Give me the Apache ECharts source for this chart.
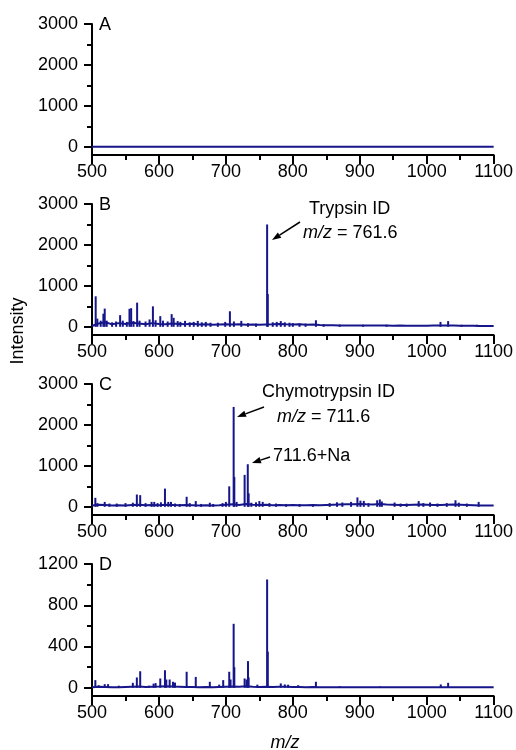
<!DOCTYPE html>
<html><head><meta charset="utf-8">
<script src="https://cdn.jsdelivr.net/npm/echarts@6/dist/echarts.min.js"></script>
<style>html,body{margin:0;padding:0;background:#fff}#c{width:516px;height:750px}</style>
</head><body><div id="c"></div>
<script>
// m/z sampling of the baseline traces
const baseMz = [500,510,520,530,540,550,560,570,580,590,600,610,620,630,640,650,660,670,680,690,
  700,710,720,730,740,750,760,770,780,790,800,810,820,830,840,850,860,870,880,890,
  900,910,920,930,940,950,960,970,980,990,1000,1010,1020,1030,1040,1050,1060,1070,1080,1090,1100];

// A: blank — flat trace
const mzA = [500, 1100];
const intA = [0, 0];
const peakMzA = [];
const peakIntA = [];

// B: trypsin digest
const baseB = [20,80,110,60,90,70,100,80,60,90,70,60,80,70,60,75,55,65,50,55,
  60,55,60,50,55,50,55,60,70,60,55,60,50,55,45,40,40,35,35,35,
  30,35,30,30,30,28,30,28,28,25,28,30,30,35,30,25,25,25,22,22,22];
const peakMzB = [505.5,508,513,517,519,522,530,536,542,546,552,556,558.5,562,567.4,571,580,586,591,595,
  602,606,613,619,622,628,632,639,646,652,658,664,670,677,688,699,706,712,723,733,745,
  761.6,762.6,770,776,782,788,795,800,810,819,834.5,846,870,905,940,1020.6,1032,1052,1075];
const peakIntB = [745,200,150,320,445,150,110,130,285,150,120,440,455,140,590,150,130,180,500,160,
  260,150,130,310,220,140,120,145,110,120,145,110,120,100,100,120,380,130,145,90,80,
  2500,800,110,120,140,110,100,90,85,80,160,60,55,50,50,120,140,50,50];

// C: chymotrypsin digest
const baseC = [30,50,45,35,40,35,45,50,40,45,40,50,45,40,45,40,35,40,35,40,
  50,60,45,70,50,45,50,40,45,40,45,40,40,45,40,45,50,55,60,65,
  70,60,55,70,55,50,45,45,50,55,50,45,45,50,55,50,45,40,35,35,35];
const peakMzC = [505,508,519,526,537,550,561,567,572,580,589,593,598,603,609,614,618,624,631,641.4,
  646,655,663,676,681,695,700,705,711.6,712.6,716,728,732.7,734,738,745,750,755,765,775,
  790,810,830,855,866,874,887,896.5,901,906,913,926,930,933,952,961,970,988,995,1005,
  1016,1030,1043,1048,1060,1077.6];
const peakIntC = [220,90,120,80,80,90,100,300,285,90,120,120,90,110,445,120,120,80,70,245,
  90,140,70,100,70,90,120,500,2440,730,120,780,1040,330,100,110,140,120,90,80,
  70,70,60,90,110,105,120,230,150,145,90,160,180,130,105,80,80,140,90,105,
  80,90,160,100,80,120];

// D: combined digest
const baseD = [5,10,8,6,5,8,10,12,8,10,12,15,12,10,8,8,6,8,6,8,
  10,12,10,15,10,8,10,8,10,10,8,8,6,8,6,5,5,5,4,5,
  4,4,4,4,4,4,4,4,4,4,4,4,5,6,5,4,4,4,4,4,4];
const peakMzD = [505,510,519,524,540,561,567,572,585,592,595,602,609,611,616,621,624,641.4,655,676,
  690,696,705,707,711.6,712.6,728,731,733,734,747,761.6,762.6,782,788,793,808,834.5,870,930,1021,1032];
const peakIntD = [74,25,35,35,20,48,100,160,20,40,45,90,170,80,80,58,50,155,105,58,
  30,74,155,80,620,200,90,80,258,100,30,1050,350,42,32,30,25,58,15,12,32,48];

// y-axis ranges and tick labels per panel
const yMin = [-200, -200, -200, -80];
const yMax = [3000, 3000, 3000, 1200];
const yMajor = [[0,1000,2000,3000],[0,1000,2000,3000],[0,1000,2000,3000],[0,400,800,1200]];
const yMinor = [[500,1500,2500],[500,1500,2500],[500,1500,2500],[200,600,1000]];
const panelLetters = ['A','B','C','D'];

const NAVY = '#16168a';
const FONT = '"Liberation Sans", Arial, sans-serif';
const gridTop = [24, 204, 384, 564];
const gridH = [131, 131, 131, 132];
const plain = v => String(v);

const traces = [
  {mz: mzA, val: intA, pm: peakMzA, pv: peakIntA},
  {mz: baseMz, val: baseB, pm: peakMzB, pv: peakIntB},
  {mz: baseMz, val: baseC, pm: peakMzC, pv: peakIntC},
  {mz: baseMz, val: baseD, pm: peakMzD, pv: peakIntD}
];

const grid = [], xAxis = [], yAxis = [], series = [];
for (let i = 0; i < 4; i++) {
  grid.push({left: 92, right: 21, top: gridTop[i], height: gridH[i]});
  xAxis.push({
    type: 'value', gridIndex: i, min: 500, max: 1100, interval: 100,
    axisLine: {onZero: false, lineStyle: {color: '#000', width: 2}},
    axisTick: {length: 9, lineStyle: {color: '#000', width: 2}},
    minorTick: {show: true, splitNumber: 2, length: 5, lineStyle: {color: '#000', width: 2}},
    splitLine: {show: false},
    axisLabel: {color: '#000', fontSize: 18, fontFamily: FONT, margin: 8, formatter: plain}
  });
  yAxis.push({
    type: 'value', gridIndex: i, min: yMin[i], max: yMax[i],
    axisLine: {show: true, lineStyle: {color: '#000', width: 2}},
    axisTick: {show: true, length: 8, customValues: yMajor[i], lineStyle: {color: '#000', width: 2}},
    axisLabel: {customValues: yMajor[i], color: '#000', fontSize: 18, fontFamily: FONT, margin: 14, formatter: plain},
    splitLine: {show: false}
  });
  yAxis.push({
    type: 'value', gridIndex: i, min: yMin[i], max: yMax[i], position: 'left',
    axisLine: {show: false},
    axisTick: {show: true, length: 5, customValues: yMinor[i], lineStyle: {color: '#000', width: 2}},
    axisLabel: {show: false},
    splitLine: {show: false}
  });
  const t = traces[i];
  series.push({
    type: 'line', xAxisIndex: i, yAxisIndex: 2 * i, symbol: 'none',
    lineStyle: {color: NAVY, width: 2},
    data: t.mz.map((m, k) => [m, t.val[k]]), z: 3
  });
  if (t.pm.length) {
    series.push({
      type: 'bar', xAxisIndex: i, yAxisIndex: 2 * i, barWidth: 2,
      itemStyle: {color: NAVY},
      data: t.pm.map((m, k) => [m, t.pv[k]]), z: 2
    });
  }
}

const textStyle = (x, y, text, extra) => Object.assign({
  type: 'text', style: Object.assign({x: x, y: y, text: text, font: '18px ' + FONT, fill: '#000',
    align: 'left', verticalAlign: 'middle'}, extra || {})
});

const graphic = [];
panelLetters.forEach((L, i) => graphic.push(textStyle(99, gridTop[i] + 1, L)));

// rich text for the italic m/z
const rich = {i: {fontStyle: 'italic', fontSize: 18, fontFamily: FONT}, n: {fontSize: 18, fontFamily: FONT}};
function mzLabel(x, y, value) {
  return {type: 'text', style: {x: x, y: y, text: '{i|m/z}{n| = ' + value + '}', rich: rich,
    fill: '#000', align: 'left', verticalAlign: 'middle'}};
}
function arrow(sx, sy, tx, ty) {
  const dx = tx - sx, dy = ty - sy, len = Math.hypot(dx, dy);
  const ux = dx / len, uy = dy / len, hl = 9, hw = 3.2;
  const bx = tx - ux * hl, by = ty - uy * hl;
  return [
    {type: 'line', shape: {x1: sx, y1: sy, x2: bx, y2: by}, style: {stroke: '#000', lineWidth: 1.5}},
    {type: 'polygon', shape: {points: [[tx, ty], [bx - uy * hw, by + ux * hw], [bx + uy * hw, by - ux * hw]]},
      style: {fill: '#000'}}
  ];
}

graphic.push(textStyle(309, 209, 'Trypsin ID'));
graphic.push(mzLabel(303, 233, '761.6'));
graphic.push(...arrow(300, 222, 272, 240));

graphic.push(textStyle(262, 392, 'Chymotrypsin ID'));
graphic.push(mzLabel(277, 417, '711.6'));
graphic.push(...arrow(264, 407, 237, 417));

graphic.push(textStyle(273, 456, '711.6+Na'));
graphic.push(...arrow(270, 457, 252, 463));

graphic.push({type: 'text', rotation: Math.PI / 2, x: 18, y: 331,
  style: {text: 'Intensity', font: '18px ' + FONT, fill: '#000', align: 'center', verticalAlign: 'middle'}});
graphic.push({type: 'text', style: {x: 285, y: 743, text: 'm/z', font: 'italic 18px ' + FONT,
  fill: '#000', align: 'center', verticalAlign: 'middle'}});

const chart = echarts.init(document.getElementById('c'), null, {renderer: 'canvas'});
chart.setOption({
  animation: false, backgroundColor: '#fff',
  grid: grid, xAxis: xAxis, yAxis: yAxis, series: series, graphic: graphic
});
</script></body></html>
